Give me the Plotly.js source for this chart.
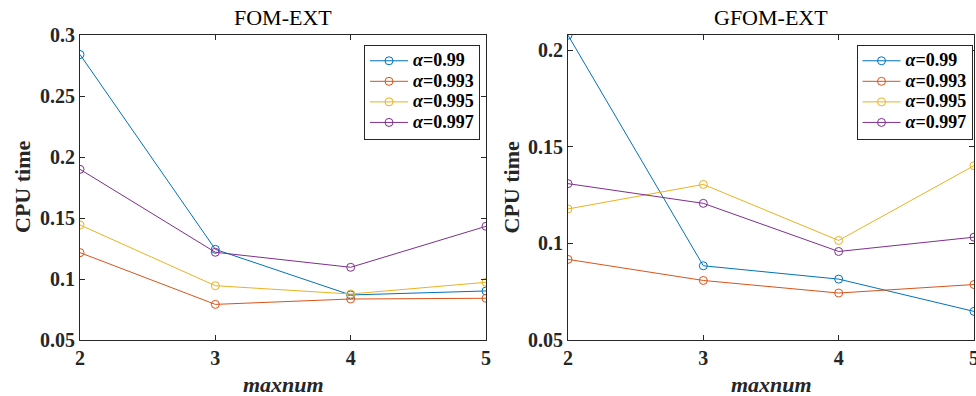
<!DOCTYPE html>
<html>
<head>
<meta charset="utf-8">
<script src="https://cdn.plot.ly/plotly-3.0.1.min.js"></script>
<style>html,body{margin:0;padding:0;background:#fff;}#chart{width:976px;height:396px;}</style>
</head>
<body>
<div id="chart"></div>
<script>
const maxnum = [2, 3, 4, 5];
const seriesLabels = ['0.99', '0.993', '0.995', '0.997'];
const colors = ['#0072BD', '#D95319', '#EDB120', '#7E2F8E'];

// FOM-EXT
const fom_a0990 = [0.284, 0.1243, 0.0869, 0.0902];
const fom_a0993 = [0.1216, 0.0792, 0.0836, 0.0842];
const fom_a0995 = [0.1443, 0.0945, 0.0877, 0.0973];
const fom_a0997 = [0.1899, 0.1219, 0.1096, 0.1432];

// GFOM-EXT
const gfom_a0990 = [0.2077, 0.0884, 0.0815, 0.0648];
const gfom_a0993 = [0.0917, 0.0808, 0.0743, 0.0787];
const gfom_a0995 = [0.1178, 0.1305, 0.1015, 0.1402];
const gfom_a0997 = [0.1309, 0.1207, 0.0958, 0.1032];

const yTicksLeft = [0.05, 0.1, 0.15, 0.2, 0.25, 0.3];
const yTickTextLeft = ['0.05', '0.1', '0.15', '0.2', '0.25', '0.3'];
const yTicksRight = [0.05, 0.1, 0.15, 0.2];
const yTickTextRight = ['0.05', '0.1', '0.15', '0.2'];
const xTicks = [2, 3, 4, 5];
const xTickText = ['2', '3', '4', '5'];

const FONT = 'Liberation Serif, Times New Roman, Times, serif';
const AXC = '#262626';

const fomData = [fom_a0990, fom_a0993, fom_a0995, fom_a0997];
const gfomData = [gfom_a0990, gfom_a0993, gfom_a0995, gfom_a0997];

function legendName(lbl) {
  return '<span style="font-size:18px"><b><i>α</i>=' + lbl + '</b></span>';
}

const traces = [];
fomData.forEach((d, i) => traces.push({
  x: maxnum, y: d, type: 'scatter', mode: 'lines+markers', name: legendName(seriesLabels[i]),
  line: {color: colors[i], width: 1},
  marker: {symbol: 'circle-open', size: 8, color: colors[i], line: {width: 1, color: colors[i]}},
  xaxis: 'x', yaxis: 'y', legend: 'legend'
}));
gfomData.forEach((d, i) => traces.push({
  x: maxnum, y: d, type: 'scatter', mode: 'lines+markers', name: legendName(seriesLabels[i]),
  line: {color: colors[i], width: 1},
  marker: {symbol: 'circle-open', size: 8, color: colors[i], line: {width: 1, color: colors[i]}},
  xaxis: 'x2', yaxis: 'y2', legend: 'legend2'
}));

const W = 976, H = 396;
const xd1 = [80 / W, 486 / W];
const xd2 = [568 / W, 974 / W];
const yd = [(H - 340) / H, (H - 35) / H];

function xax(domain, anchor) {
  return {
    domain: domain, anchor: anchor, range: [2, 5], tickvals: xTicks, ticktext: xTickText,
    ticks: 'inside', ticklen: 5, tickcolor: AXC, showline: true, linecolor: AXC, linewidth: 1,
    mirror: 'ticks', showgrid: false, zeroline: false, fixedrange: true, ticklabeloverflow: 'allow',
    tickfont: {family: FONT, size: 20, color: AXC, weight: 'bold'}
  };
}
function yax(domain, anchor, range, tv, tt) {
  return {
    domain: domain, anchor: anchor, range: range, tickvals: tv, ticktext: tt,
    ticks: 'inside', ticklen: 5, tickcolor: AXC, showline: true, linecolor: AXC, linewidth: 1,
    mirror: 'ticks', showgrid: false, zeroline: false, fixedrange: true, ticklabeloverflow: 'allow',
    tickfont: {family: FONT, size: 20, color: AXC, weight: 'bold'}
  };
}

const legendStyle = (xr) => ({
  x: xr / W, xanchor: 'right', y: (H - 44.5) / H, yanchor: 'top',
  bgcolor: '#ffffff', bordercolor: '#262626', borderwidth: 1,
  font: {family: FONT, size: 13.5, color: '#000'}, tracegroupgap: 0, itemwidth: 38
});

const annotations = [
  {text: 'FOM-EXT', x: (xd1[0] + xd1[1]) / 2, y: yd[1], xref: 'paper', yref: 'paper', xanchor: 'center', yanchor: 'bottom', yshift: 3, showarrow: false, font: {family: FONT, size: 22, color: '#000'}},
  {text: 'GFOM-EXT', x: (xd2[0] + xd2[1]) / 2, y: yd[1], xref: 'paper', yref: 'paper', xanchor: 'center', yanchor: 'bottom', yshift: 3, showarrow: false, font: {family: FONT, size: 22, color: '#000'}},
  {text: '<b>CPU time</b>', x: 22.5 / W, y: (yd[0] + yd[1]) / 2, xref: 'paper', yref: 'paper', xanchor: 'center', yanchor: 'middle', textangle: -90, showarrow: false, font: {family: FONT, size: 22, color: AXC}},
  {text: '<b>CPU time</b>', x: 511 / W, y: (yd[0] + yd[1]) / 2, xref: 'paper', yref: 'paper', xanchor: 'center', yanchor: 'middle', textangle: -90, showarrow: false, font: {family: FONT, size: 22, color: AXC}},
  {text: '<b><i>maxnum</i></b>', x: (xd1[0] + xd1[1]) / 2, y: (H - 384) / H, xref: 'paper', yref: 'paper', xanchor: 'center', yanchor: 'middle', showarrow: false, font: {family: FONT, size: 22, color: AXC}},
  {text: '<b><i>maxnum</i></b>', x: (xd2[0] + xd2[1]) / 2, y: (H - 384) / H, xref: 'paper', yref: 'paper', xanchor: 'center', yanchor: 'middle', showarrow: false, font: {family: FONT, size: 22, color: AXC}}
];

const layout = {
  width: W, height: H, margin: {l: 0, r: 0, t: 0, b: 0},
  paper_bgcolor: '#ffffff', plot_bgcolor: '#ffffff',
  font: {family: FONT},
  xaxis: xax(xd1, 'y'),
  yaxis: yax(yd, 'x', [0.05, 0.3], yTicksLeft, yTickTextLeft),
  xaxis2: xax(xd2, 'y2'),
  yaxis2: yax(yd, 'x2', [0.05, 0.2078], yTicksRight, yTickTextRight),
  legend: legendStyle(480),
  legend2: legendStyle(972.5),
  annotations: annotations,
  showlegend: true
};

Plotly.newPlot('chart', traces, layout, {displayModeBar: false, staticPlot: true});
</script>
</body>
</html>
